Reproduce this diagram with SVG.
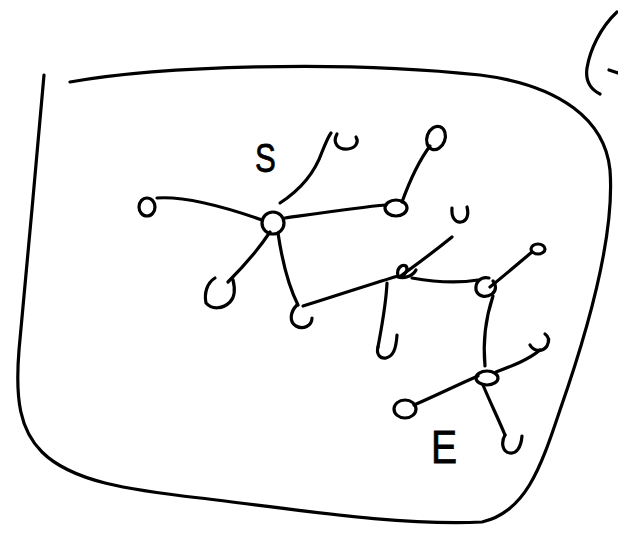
<svg xmlns="http://www.w3.org/2000/svg" width="618" height="533" viewBox="0 0 618 533">
<style>
.s{fill:none;stroke:#000;stroke-width:3.2;stroke-linecap:round;stroke-linejoin:round}
.t{font-family:"Liberation Sans",Arial,sans-serif;fill:#000;stroke:#000;stroke-width:0.8}
</style>
<rect width="618" height="533" fill="#fff"/>
<g id="frame">
<path class="s" d="M70,82 C160,66 340,60 480,75 C560,85 605,120 610,170 C615,235 588,330 560,410 C540,470 525,512 482,522 C400,526 300,510 200,498 C130,490 72,482 42,452 C20,430 15,400 19,350 C25,280 38,150 44,75"/>
<path class="s" d="M617,12 C600,28 590,50 587,68 C585,82 592,90 600,94"/>
<path class="s" d="M609,70 L618,73"/>
</g>
<g id="connectors">
<path class="s" d="M157,198 C185,196 225,207 262,220"/>
<path class="s" d="M280,203 C300,190 315,172 322,152 C326,142 328,137 331,133"/>
<path class="s" d="M285,218 C320,213 360,207 386,205"/>
<path class="s" d="M402,202 C410,180 418,162 430,146"/>
<path class="s" d="M452,237 C436,250 420,262 402,275"/>
<path class="s" d="M412,278 C440,283 460,283 478,280"/>
<path class="s" d="M490,287 C505,275 520,262 532,252"/>
<path class="s" d="M270,232 C258,250 245,265 228,282"/>
<path class="s" d="M278,233 C282,260 288,285 298,305"/>
<path class="s" d="M303,306 C335,296 365,286 398,276"/>
<path class="s" d="M387,283 C386,305 382,325 378,347"/>
<path class="s" d="M493,296 C485,320 483,345 485,366"/>
<path class="s" d="M496,372 C512,366 528,360 540,350"/>
<path class="s" d="M478,376 C455,386 435,396 414,405"/>
<path class="s" d="M483,385 C490,402 498,418 505,435"/>
</g>
<g id="node-left"><ellipse class="s" cx="147" cy="207" rx="8" ry="9"/></g>
<g id="node-s"><circle class="s" cx="273" cy="223" r="11"/><text class="t" x="255" y="172" font-size="40" transform="translate(255,0) scale(0.78,1) translate(-255,0)">S</text></g>
<g id="node-top1"><path class="s" d="M337,134 C332,143 338,150 348,149 C356,148 359,142 356,137"/></g>
<g id="node-r1"><ellipse class="s" cx="396" cy="208" rx="11" ry="8"/></g>
<g id="node-top2"><ellipse class="s" cx="436" cy="138" rx="9" ry="12" transform="rotate(20 436 138)"/></g>
<g id="node-u"><path class="s" d="M452,208 C451,218 456,223 461,222 C467,221 469,215 467,207"/></g>
<g id="node-mid"><path class="s" d="M398,276 C396,268 402,264 406,266 C409,270 405,276 398,277 C404,279 413,276 416,270"/></g>
<g id="node-r2"><path class="s" d="M489,278 C480,276 475,283 476,290 C478,297 486,298 492,294 C497,290 496,284 493,281"/></g>
<g id="node-small"><ellipse class="s" cx="538" cy="249" rx="7" ry="5"/></g>
<g id="node-ll"><path class="s" d="M215,278 C207,283 204,293 206,303 C212,310 223,309 230,302 C236,296 235,288 233,280"/></g>
<g id="node-b1"><path class="s" d="M297,305 C290,312 289,322 296,326 C303,330 312,326 312,318"/></g>
<g id="node-hook"><path class="s" d="M378,347 C376,354 380,359 386,358 C393,356 396,350 397,335"/></g>
<g id="node-e"><ellipse class="s" cx="487" cy="378" rx="11" ry="7"/><text class="t" x="431" y="463" font-size="46" transform="translate(431,0) scale(0.85,1) translate(-431,0)">E</text></g>
<g id="node-hook2"><path class="s" d="M530,345 C534,352 543,352 547,346 C550,340 548,336 545,334"/></g>
<g id="node-el"><ellipse class="s" cx="405" cy="409" rx="11" ry="9"/></g>
<g id="node-v"><path class="s" d="M505,435 C501,442 502,452 510,453 C516,454 521,448 522,436"/></g>
</svg>
